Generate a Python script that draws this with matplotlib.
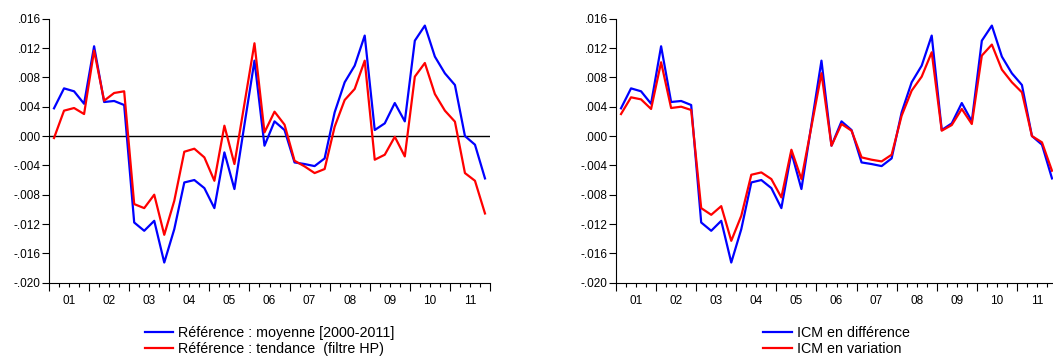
import numpy as np
import matplotlib
matplotlib.use('Agg')
import matplotlib.pyplot as plt
import matplotlib.transforms as mtransforms

plt.rcParams['font.family'] = ['Liberation Sans', 'DejaVu Sans']

# trimestres 2001T1 - 2011T4
years = ['01', '02', '03', '04', '05', '06', '07', '08', '09', '10', '11']

# Référence : moyenne [2000-2011]  (= ICM en différence)
ref_moyenne = [0.00378, 0.0065, 0.0061, 0.0044,
               0.01224, 0.00464, 0.00478, 0.00423,
               -0.01179, -0.01292, -0.01156, -0.01725,
               -0.0127, -0.00633, -0.006, -0.0071,
               -0.00983, -0.00223, -0.00723, 0.00155,
               0.01028, -0.00132, 0.002, 0.00082,
               -0.0036, -0.00382, -0.0041, -0.00305,
               0.00323, 0.00733, 0.0096, 0.0137,
               0.00082, 0.00173, 0.0045, 0.002,
               0.013, 0.01506, 0.01083, 0.00855,
               0.00696, 0.0, -0.00118, -0.00578]

# Référence : tendance (filtre HP)
ref_tendance = [-0.00027, 0.00346, 0.00382, 0.003,
                0.01165, 0.00482, 0.00587, 0.0061,
                -0.00928, -0.00983, -0.008, -0.01347,
                -0.00883, -0.00214, -0.00173, -0.00291,
                -0.0061, 0.00141, -0.00382, 0.0044,
                0.01265, 0.0005, 0.00332, 0.00155,
                -0.00337, -0.00414, -0.00505, -0.0045,
                0.00127, 0.00491, 0.00642, 0.01028,
                -0.00323, -0.00255, -0.0001, -0.00278,
                0.0081, 0.00996, 0.00573, 0.00346,
                0.00196, -0.00505, -0.0061, -0.01056]

# ICM en variation
icm_variation = [0.003, 0.00528, 0.005, 0.00369,
                 0.01006, 0.00382, 0.004, 0.00355,
                 -0.00983, -0.01074, -0.00956, -0.01429,
                 -0.01088, -0.00528, -0.00496, -0.00587,
                 -0.00837, -0.00187, -0.00587, 0.0013,
                 0.00856, -0.00132, 0.00164, 0.00073,
                 -0.00291, -0.00323, -0.00346, -0.00255,
                 0.00278, 0.00619, 0.0081, 0.01142,
                 0.00073, 0.0015, 0.00369, 0.00164,
                 0.01097, 0.01247, 0.00906, 0.00733,
                 0.00596, 0.0, -0.00086, -0.00473]

x = np.arange(len(ref_moyenne))
W, H = 1053, 356

fig = plt.figure(figsize=(W / 100, H / 100), dpi=100)


def setup(ax):
    ax.set_xlim(-0.5, 43.5)
    ax.set_ylim(-0.020, 0.016)
    yt = np.arange(-0.020, 0.0161, 0.004)
    ax.set_yticks(yt)
    ax.set_yticklabels([('%.3f' % v).replace('0.', '.') for v in yt], fontsize=8.5)
    ax.tick_params(axis='y', length=5, width=0.8, pad=1)
    ax.set_xticks(np.arange(-0.5, 44, 4))
    ax.set_xticklabels([])
    ax.set_xticks([v for v in np.arange(0.5, 44, 1) if (v + 0.5) % 4 != 0], minor=True)
    ax.tick_params(axis='x', which='major', length=6, width=0.8)
    ax.tick_params(axis='x', which='minor', length=3, width=0.8)
    for s in ['top', 'right']:
        ax.spines[s].set_visible(False)
    for s in ['left', 'bottom']:
        ax.spines[s].set_linewidth(0.8)
    trans = mtransforms.blended_transform_factory(ax.transData, ax.transAxes)
    for i, yr in enumerate(years):
        ax.text(1.5 + 4 * i, -0.068, yr, transform=trans, ha='center', va='center',
                fontsize=8.5, clip_on=False)


ax1 = fig.add_axes([49 / W, (H - 282.7) / H, 441 / W, 264 / H])
setup(ax1)
ax1.axhline(0, color='black', lw=1)
ax1.plot(x, ref_moyenne, color='#0000ff', lw=1.6, label='Référence : moyenne [2000-2011]')
ax1.plot(x, ref_tendance, color='#ff0000', lw=1.6, label='Référence : tendance  (filtre HP)')
ax1.legend(loc='upper center', bbox_to_anchor=(0.5, -0.138), frameon=False, fontsize=10.3,
           handlelength=2.0, handletextpad=0.35, labelspacing=0.12, borderpad=0)

ax2 = fig.add_axes([616 / W, (H - 282.7) / H, 441 / W, 264 / H])
setup(ax2)
ax2.plot(x, ref_moyenne, color='#0000ff', lw=1.6, label='ICM en différence')
ax2.plot(x, icm_variation, color='#ff0000', lw=1.6, label='ICM en variation')
ax2.legend(loc='upper center', bbox_to_anchor=(0.5, -0.138), frameon=False, fontsize=10.3,
           handlelength=2.0, handletextpad=0.35, labelspacing=0.12, borderpad=0)

fig.savefig('out.png', dpi=100)
